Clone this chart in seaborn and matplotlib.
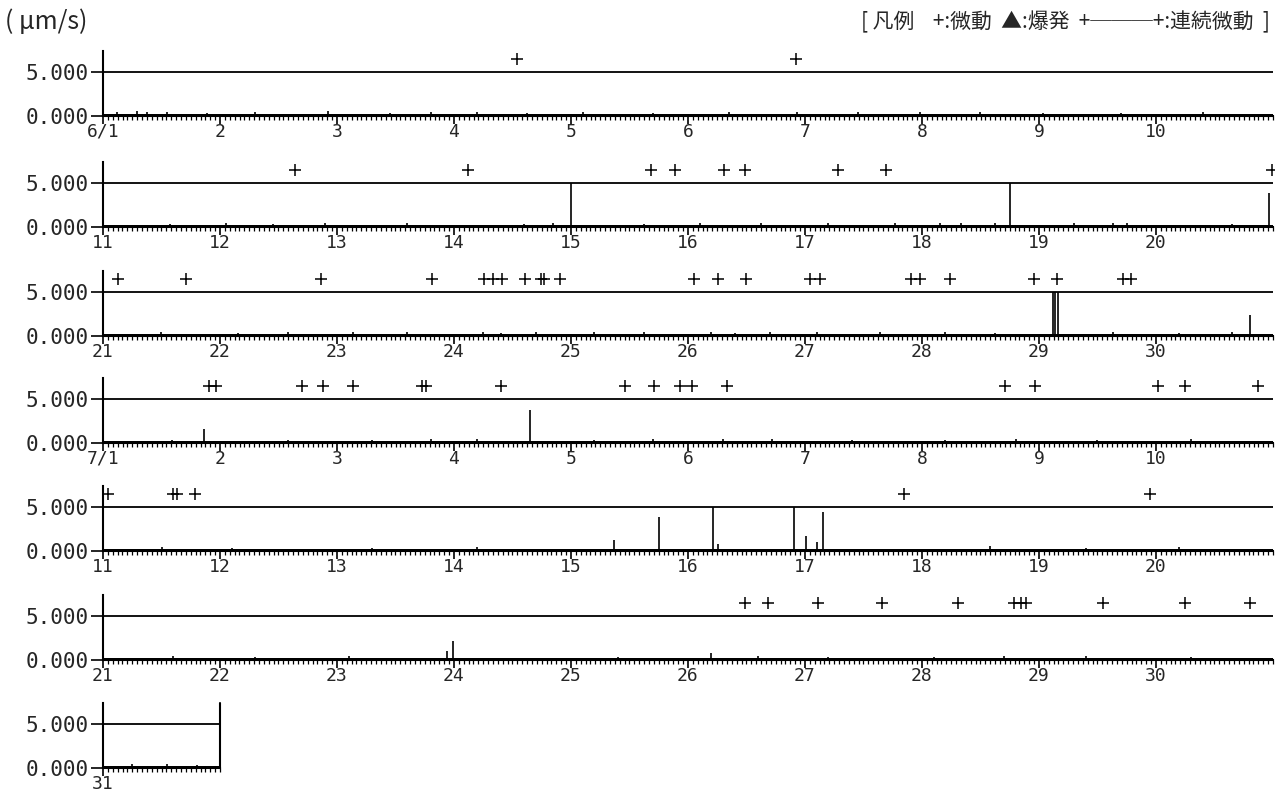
import numpy as np
import matplotlib.pyplot as plt
import seaborn as sns

sns.set_style("white")
plt.rcParams['font.family'] = ['Noto Sans CJK JP', 'DejaVu Sans']

# one row per 10-day period (last row = 7/31 only)
row_starts = [1, 11, 21, 1, 11, 21, 31]
row_lengths = [10, 10, 10, 10, 10, 10, 1]
row_months = [6, 6, 6, 7, 7, 7, 7]

# quiet background amplitude for each row (um/s)
quiet_level = [0.22, 0.2, 0.22, 0.22, 0.25, 0.25, 0.22]

# volcanic tremor events (+), as day-of-month with fraction
tremor_days = [
    [4.54, 6.92],
    [12.64, 14.12, 15.68, 15.89, 16.31, 16.49, 17.28, 17.69, 20.99],
    [21.13, 21.71, 22.86, 23.81, 24.26, 24.33, 24.41, 24.61, 24.74, 24.77,
     24.91, 26.05, 26.26, 26.50, 27.04, 27.13, 27.91, 27.98, 28.24, 28.96,
     29.15, 29.72, 29.79],
    [1.91, 1.97, 2.70, 2.88, 3.14, 3.73, 3.76, 4.40, 5.46, 5.71, 5.93, 6.03,
     6.33, 8.71, 8.97, 10.02, 10.25, 10.87],
    [11.04, 11.60, 11.63, 11.79, 17.85, 19.95],
    [26.49, 26.68, 27.11, 27.66, 28.31, 28.79, 28.85, 28.89, 29.55, 30.25,
     30.80],
    [],
]

# amplitude spikes above the background (values at 5.0 reach the scale top)
spike_days = [
    [1.12, 1.29, 1.38, 1.55, 1.89, 2.30, 2.92, 3.45, 3.80, 4.20, 4.62, 5.10,
     5.70, 6.35, 6.93, 7.45, 7.98, 8.50, 9.03, 9.70, 10.40],
    [11.57, 12.05, 12.45, 12.90, 13.60, 14.60, 14.85, 15.00, 15.62, 16.10,
     16.62, 17.20, 17.77, 18.15, 18.33, 18.62, 18.75, 19.30, 19.63, 19.75,
     20.65, 20.97],
    [21.50, 22.15, 22.58, 23.14, 23.60, 24.25, 24.40, 24.70, 25.20, 25.62,
     26.20, 26.40, 26.70, 27.10, 27.64, 28.20, 28.62, 29.12, 29.14, 29.16,
     29.63, 30.20, 30.65, 30.80],
    [1.59, 1.86, 2.58, 3.30, 3.80, 4.20, 4.65, 5.20, 5.70, 6.30, 6.72, 7.40,
     8.20, 8.80, 9.50, 10.30],
    [11.50, 12.10, 13.30, 14.20, 15.37, 15.75, 16.21, 16.26, 16.91, 17.01,
     17.10, 17.15, 18.58, 19.40, 20.20],
    [21.60, 22.30, 23.10, 23.94, 23.99, 25.40, 26.20, 26.60, 27.20, 28.10,
     28.70, 29.40, 30.30],
    [31.25, 31.55, 31.80],
]
spike_amps = [
    [0.4, 0.6, 0.5, 0.4, 0.3, 0.4, 0.6, 0.3, 0.4, 0.4, 0.3, 0.4, 0.3, 0.4,
     0.4, 0.4, 0.4, 0.4, 0.3, 0.3, 0.4],
    [0.3, 0.4, 0.3, 0.4, 0.5, 0.3, 0.4, 5.0, 0.3, 0.4, 0.4, 0.4, 0.5, 0.4,
     0.4, 0.4, 5.0, 0.4, 0.4, 0.4, 0.3, 3.9],
    [0.4, 0.3, 0.4, 0.4, 0.4, 0.4, 0.3, 0.4, 0.4, 0.4, 0.4, 0.3, 0.4, 0.4,
     0.5, 0.4, 0.3, 5.0, 5.0, 5.0, 0.4, 0.3, 0.4, 2.4],
    [0.3, 1.6, 0.3, 0.3, 0.4, 0.4, 3.75, 0.3, 0.4, 0.4, 0.4, 0.3, 0.3, 0.4,
     0.3, 0.4],
    [0.4, 0.3, 0.3, 0.4, 1.2, 3.9, 5.0, 0.8, 5.0, 1.7, 1.0, 4.4, 0.6, 0.3,
     0.4],
    [0.4, 0.3, 0.4, 1.0, 2.2, 0.3, 0.8, 0.5, 0.3, 0.3, 0.4, 0.4, 0.3],
    [0.4, 0.4, 0.3],
]

W, H = 1275, 796
fig = plt.figure(figsize=(W / 100, H / 100), dpi=100)

zero_px = [116, 227, 336, 443, 551, 660, 768]
left_px, day_px, axis_h_px = 103, 117, 65
y_top = 7.4

for i in range(7):
    start, n = row_starts[i], row_lengths[i]
    ax = fig.add_axes([left_px / W, (H - zero_px[i]) / H,
                       n * day_px / W, axis_h_px / H])
    ax.set_xlim(start, start + n)
    ax.set_ylim(0, y_top)

    ax.fill_between([start, start + n], 0, quiet_level[i], color='black', lw=0)
    ax.vlines(spike_days[i], 0, spike_amps[i], color='black', lw=1.2)
    ax.axhline(5, color='black', lw=1.3)
    if tremor_days[i]:
        sns.scatterplot(x=tremor_days[i], y=[6.5] * len(tremor_days[i]),
                        marker='+', s=70, color='black', linewidth=1.1,
                        ax=ax, legend=False, clip_on=False)
    if n == 1:
        ax.axvline(start + n, color='black', lw=1.5, clip_on=False)

    for side in ['top', 'right']:
        ax.spines[side].set_visible(False)
    for side in ['left', 'bottom']:
        ax.spines[side].set_linewidth(1.5)
        ax.spines[side].set_color('black')

    days = list(range(start, start + n))
    labels = [f"{row_months[i]}/{d}" if d == 1 else str(d) for d in days]
    ax.set_xticks(days)
    ax.set_xticklabels(labels, fontfamily='DejaVu Sans Mono', fontsize=13)
    ax.set_xticks(np.arange(start, start + n + 0.001, 1 / 24), minor=True)
    ax.tick_params(axis='x', which='major', direction='out', length=6,
                   width=1.2, pad=-1, bottom=True, color='black')
    ax.tick_params(axis='x', which='minor', direction='out', length=3,
                   width=0.9, bottom=True, color='black')
    ax.set_yticks([0, 5])
    ax.set_yticklabels(['0.000', '5.000'], fontfamily='DejaVu Sans Mono',
                       fontsize=15)
    ax.tick_params(axis='y', direction='out', length=9, width=1.2, pad=1,
                   left=True, color='black')
    ax.set_xlabel('')
    ax.set_ylabel('')

fig.text(5 / W, 1 - 22 / H, '( μm/s)', fontsize=18, va='center', ha='left')
fig.text(1270 / W, 1 - 22 / H, '[ 凡例    +:微動  ▲:爆発  +───+:連続微動  ]',
         fontsize=15, va='center', ha='right')

fig.savefig('out.png', dpi=100)
